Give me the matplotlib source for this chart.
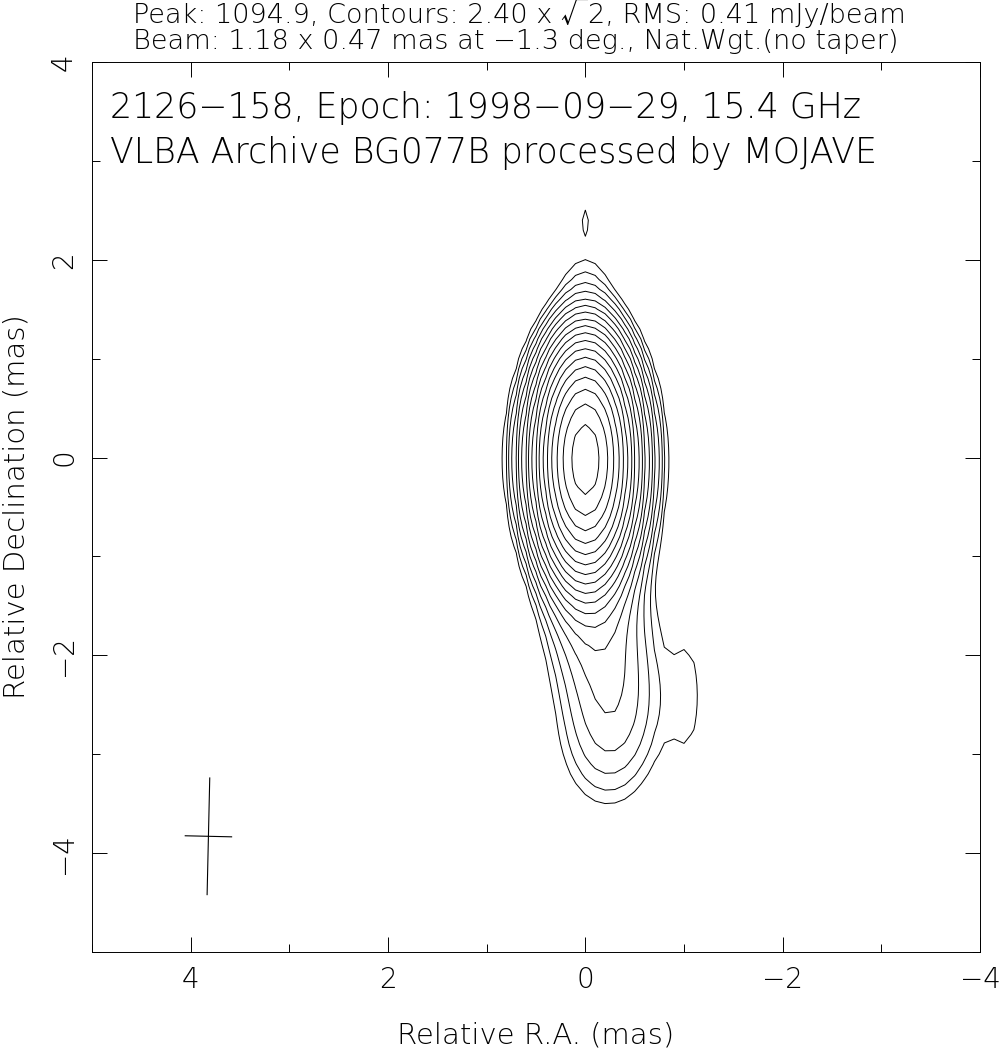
import numpy as np
import matplotlib.pyplot as plt
from matplotlib.ticker import MultipleLocator

# ExtraLight DejaVu, with a fallback for the square-root sign
plt.rcParams['font.family'] = ['DejaVu Sans', 'Noto Sans CJK SC']
plt.rcParams['font.weight'] = 200
plt.rcParams['axes.labelweight'] = 200

# map header values
source = '2126\u2212158'
epoch = '1998\u221209\u221229'
freq = 15.4
peak = 1094.9
base_level = 2.40
rms = 0.41
beam_maj, beam_min, beam_pa = 1.18, 0.47, -1.3

# components (restored): RA, Dec offset (mas),
# peak (mJy/beam), restored FWHM east-west and north-south (mas)
comp_ra = [0.0, 0.0, -0.03, -0.12, -0.28, -0.20, -1.05, 0.0, 0.0]
comp_dec = [0.0, 0.0, -0.50, -1.60, -2.45, -3.05, -2.40, 1.90, 2.40]
comp_peak = [915.0, 140.0, 62.0, 10.0, 7.0, 2.5, 2.55, 1.9, 3.0]
comp_fx = [0.47, 0.68, 0.55, 0.72, 0.75, 0.80, 0.38, 0.50, 0.08]
comp_fy = [1.20, 1.30, 1.20, 1.20, 1.20, 1.10, 1.60, 0.60, 0.32]

# map grid, 0.1 mas pixels
ra = np.round(np.arange(-4.5, 5.51, 0.1), 2)
dec = np.round(np.arange(-5.5, 4.51, 0.1), 2)
RA, DEC = np.meshgrid(ra, dec)
img = np.zeros_like(RA)
for x0, y0, p, fx, fy in zip(comp_ra, comp_dec, comp_peak, comp_fx, comp_fy):
    img += p * np.exp(-4 * np.log(2) * ((RA - x0) ** 2 / fx ** 2 + (DEC - y0) ** 2 / fy ** 2))

levels = []
lev = base_level
while lev < peak:
    levels.append(lev)
    lev *= np.sqrt(2)

W, H = 1001, 1058
fig = plt.figure(figsize=(W / 100, H / 100), dpi=100)
ax = fig.add_axes([92 / W, 1 - 952 / H, 888 / W, 890 / H])

ax.contour(RA, DEC, img, levels=levels, colors='black', linewidths=0.7)

# beam cross
bx, by = 3.82, -3.83
pa = np.radians(beam_pa)
ax.plot([bx - beam_maj / 2 * np.sin(pa), bx + beam_maj / 2 * np.sin(pa)],
        [by - beam_maj / 2 * np.cos(pa), by + beam_maj / 2 * np.cos(pa)], color='black', lw=0.8)
ax.plot([bx - beam_min / 2 * np.cos(pa), bx + beam_min / 2 * np.cos(pa)],
        [by + beam_min / 2 * np.sin(pa), by - beam_min / 2 * np.sin(pa)], color='black', lw=0.8)

ax.set_xlim(5, -4)
ax.set_ylim(-5, 4)
ax.xaxis.set_major_locator(MultipleLocator(2))
ax.xaxis.set_minor_locator(MultipleLocator(1))
ax.yaxis.set_major_locator(MultipleLocator(2))
ax.yaxis.set_minor_locator(MultipleLocator(1))
ax.tick_params(which='both', direction='in', top=True, right=True, width=0.7, colors='black')
ax.tick_params(which='major', length=11, labelsize=20, pad=10)
ax.tick_params(which='minor', length=5.5)
for lab in ax.get_yticklabels():
    lab.set_rotation(90)
    lab.set_va('center')
for s in ax.spines.values():
    s.set_linewidth(0.7)

ax.set_xlabel('Relative R.A. (mas)', fontsize=21, labelpad=20)
ax.set_ylabel('Relative Declination (mas)', fontsize=21, labelpad=14)

ax.text(0.02, 0.948, f'{source}, Epoch: {epoch}, {freq} GHz', transform=ax.transAxes,
        fontsize=25, va='center', ha='left')
ax.text(0.02, 0.898, 'VLBA Archive BG077B processed by MOJAVE', transform=ax.transAxes,
        fontsize=25, va='center', ha='left')

fig.text(133 / W, 1 - 14 / H, f'Peak: {peak}, Contours: {base_level:.2f} x \u221a2, RMS: {rms} mJy/beam',
         fontsize=19.5, va='center', ha='left')
fig.text(133 / W, 1 - 41 / H, f'Beam: {beam_maj} x {beam_min} mas at \u2212{abs(beam_pa)} deg., Nat.Wgt.(no taper)',
         fontsize=19.5, va='center', ha='left')

fig.savefig('out.png', dpi=100)
